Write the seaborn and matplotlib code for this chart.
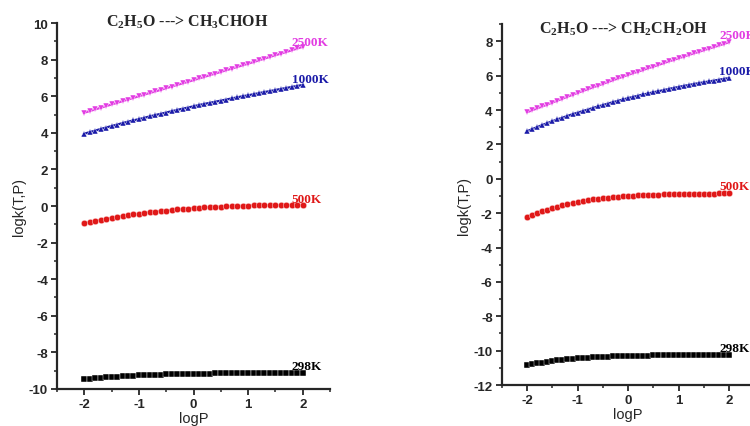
import numpy as np
import pandas as pd
import seaborn as sns
import matplotlib.pyplot as plt

# ---------------- DATA ------------------
logP = np.round(np.linspace(-2, 2, 41), 1)
temps = ["2500K", "1000K", "500K", "298K"]

# panel 1: C2H5O ---> CH3CHOH
left_2500 = [5.10, 5.19, 5.28, 5.37, 5.46, 5.55, 5.64, 5.73, 5.82, 5.91, 6.00,
             6.09, 6.18, 6.26, 6.35, 6.44, 6.53, 6.62, 6.70, 6.79, 6.88,
             6.97, 7.06, 7.15, 7.24, 7.33, 7.42, 7.51, 7.60, 7.69, 7.78,
             7.87, 7.96, 8.06, 8.15, 8.24, 8.33, 8.42, 8.51, 8.61, 8.70]
left_1000 = [3.95, 4.04, 4.12, 4.21, 4.29, 4.37, 4.45, 4.53, 4.61, 4.68, 4.75,
             4.82, 4.90, 4.97, 5.04, 5.11, 5.18, 5.25, 5.32, 5.38, 5.45,
             5.52, 5.58, 5.64, 5.70, 5.76, 5.82, 5.88, 5.94, 6.00, 6.05,
             6.11, 6.17, 6.23, 6.28, 6.34, 6.40, 6.45, 6.51, 6.56, 6.62]
left_500 = [-0.95, -0.88, -0.82, -0.76, -0.70, -0.65,
            -0.60, -0.55, -0.51, -0.46, -0.42,
            -0.38, -0.35, -0.31, -0.28, -0.25,
            -0.22, -0.19, -0.17, -0.14, -0.12,
            -0.10, -0.08, -0.06, -0.05, -0.03,
            -0.02, -0.01, 0.00, 0.01, 0.02,
            0.03, 0.03, 0.04, 0.04, 0.05,
            0.05, 0.05, 0.06, 0.06, 0.06]
left_298 = [-9.48, -9.45, -9.42, -9.40, -9.37, -9.35,
            -9.33, -9.31, -9.29, -9.28, -9.26,
            -9.25, -9.24, -9.22, -9.21, -9.20,
            -9.19, -9.19, -9.18, -9.17, -9.17,
            -9.16, -9.16, -9.16, -9.15, -9.15,
            -9.15, -9.15, -9.14, -9.14, -9.14,
            -9.14, -9.14, -9.13, -9.13, -9.13,
            -9.13, -9.13, -9.13, -9.13, -9.13]

# panel 2: C2H5O ---> CH2CH2OH
right_2500 = [3.87, 3.99, 4.10, 4.21, 4.32, 4.44, 4.55, 4.66, 4.78, 4.89, 5.00,
              5.11, 5.21, 5.32, 5.42, 5.53, 5.63, 5.74, 5.84, 5.95, 6.05,
              6.15, 6.24, 6.34, 6.44, 6.53, 6.63, 6.73, 6.83, 6.92, 7.02,
              7.11, 7.21, 7.30, 7.39, 7.49, 7.58, 7.67, 7.76, 7.86, 7.95]
right_1000 = [2.77, 2.89, 3.01, 3.13, 3.24, 3.35, 3.46, 3.56, 3.66, 3.76, 3.85,
              3.94, 4.03, 4.12, 4.21, 4.29, 4.38, 4.46, 4.54, 4.62, 4.70,
              4.77, 4.84, 4.91, 4.97, 5.04, 5.10, 5.16, 5.23, 5.29, 5.35,
              5.41, 5.46, 5.52, 5.57, 5.62, 5.67, 5.72, 5.77, 5.82, 5.87]
right_500 = [-2.20, -2.09, -1.98, -1.88, -1.79, -1.70,
             -1.62, -1.55, -1.48, -1.41, -1.35,
             -1.30, -1.25, -1.20, -1.16, -1.12,
             -1.09, -1.07, -1.04, -1.02, -1.00,
             -0.98, -0.97, -0.96, -0.94, -0.93,
             -0.92, -0.91, -0.90, -0.89, -0.88,
             -0.88, -0.87, -0.87, -0.86, -0.86,
             -0.86, -0.86, -0.85, -0.85, -0.85]
right_298 = [-10.85, -10.79, -10.74, -10.69, -10.64, -10.60,
             -10.57, -10.54, -10.51, -10.48, -10.45,
             -10.43, -10.41, -10.39, -10.37, -10.36,
             -10.35, -10.34, -10.33, -10.32, -10.31,
             -10.30, -10.30, -10.29, -10.29, -10.28,
             -10.28, -10.27, -10.27, -10.26, -10.26,
             -10.26, -10.26, -10.25, -10.25, -10.25,
             -10.25, -10.25, -10.25, -10.25, -10.25]

titles = [r"C$_2$H$_5$O ---> CH$_3$CHOH", r"C$_2$H$_5$O ---> CH$_2$CH$_2$OH"]

# ---------------- STYLE ------------------
palette = {"2500K": "#e23ce2", "1000K": "#1a1aa8", "500K": "#e01818", "298K": "#000000"}
markers = {"2500K": "v", "1000K": "^", "500K": "o", "298K": "s"}

sns.set_style("ticks")
plt.rcParams["font.family"] = ["Liberation Sans", "DejaVu Sans"]
plt.rcParams["mathtext.default"] = "regular"
plt.rcParams["axes.unicode_minus"] = False


def long_df(series):
    frames = [pd.DataFrame({"logP": logP, "logk": vals, "T": t}) for t, vals in zip(temps, series)]
    return pd.concat(frames, ignore_index=True)


fig = plt.figure(figsize=(7.5, 4.27), dpi=100)
ax1 = fig.add_axes([0.076, 0.0867, 0.364, 0.857])
ax2 = fig.add_axes([0.669, 0.096, 0.337, 0.845])

panels = [
    (ax1, long_df([left_2500, left_1000, left_500, left_298]), (-10, 10), titles[0], (-0.12, 10.1),
     {"2500K": 8.95, "1000K": 6.95, "500K": 0.4, "298K": -8.75}, 1.8),
    (ax2, long_df([right_2500, right_1000, right_500, right_298]), (-12, 9), titles[1], (-0.1, 8.75),
     {"2500K": 8.4, "1000K": 6.3, "500K": -0.4, "298K": -9.85}, 1.8),
]

for ax, df, ylim, title, tpos, lab_y, lab_x in panels:
    sns.lineplot(data=df, x="logP", y="logk", hue="T", style="T", palette=palette,
                 markers=markers, dashes=False, markersize=4.7, markeredgewidth=0.3,
                 linewidth=1.6, legend=False, ax=ax)
    ax.set_xlim(-2.5, 2.5)
    ax.set_ylim(*ylim)
    ax.set_xticks([-2, -1, 0, 1, 2])
    ax.set_xticks(np.arange(-2.5, 2.6, 0.5), minor=True)
    ax.set_yticks(np.arange(ylim[0], ylim[1] + 0.1, 2))
    ax.set_yticks(np.arange(ylim[0], ylim[1] + 0.1, 1), minor=True)
    ax.tick_params(which="major", direction="out", length=4, width=1.3, labelsize=9.5, pad=2.5)
    ax.tick_params(which="minor", direction="out", length=2.2, width=1.1)
    for lbl in ax.get_xticklabels() + ax.get_yticklabels():
        lbl.set_fontweight("bold")
    sns.despine(ax=ax)
    for side in ["left", "bottom"]:
        ax.spines[side].set_linewidth(1.6)
    ax.set_xlabel("logP", fontsize=10.5, labelpad=1)
    ax.set_ylabel("logk(T,P)", fontsize=10.5, labelpad=2)
    ax.text(tpos[0], tpos[1], title, ha="center", va="center", fontsize=11.5,
            fontweight="bold", family=["Liberation Serif", "DejaVu Serif"])
    for t in temps:
        ax.text(lab_x, lab_y[t], t, color=palette[t], fontsize=9.5, fontweight="bold",
                ha="left", va="center", family=["Liberation Serif", "DejaVu Serif"], clip_on=False)

fig.savefig("out.png", dpi=100)
